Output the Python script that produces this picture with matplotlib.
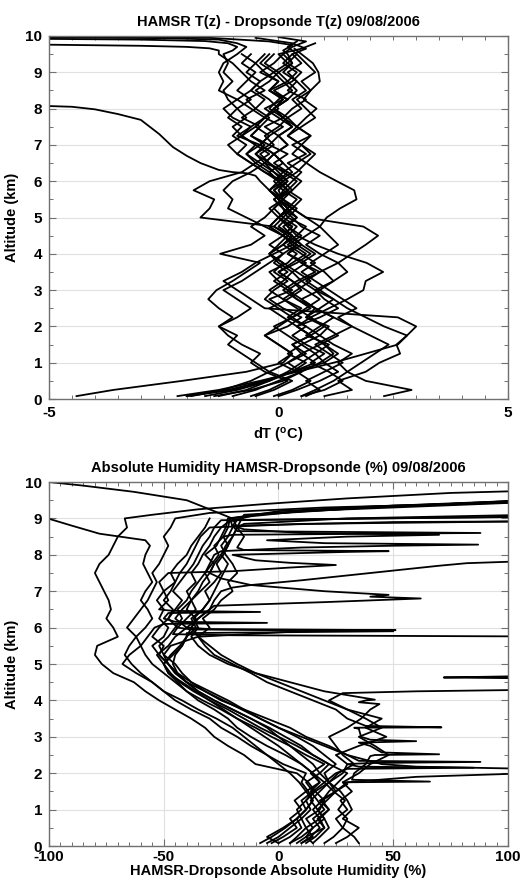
import numpy as np
import matplotlib
matplotlib.use('Agg')
import matplotlib.pyplot as plt
from matplotlib.ticker import MultipleLocator

plt.rcParams['font.family'] = ['Liberation Sans', 'DejaVu Sans']
plt.rcParams['font.weight'] = 'bold'
plt.rcParams['axes.unicode_minus'] = False
plt.rcParams['mathtext.fontset'] = 'custom'
plt.rcParams['mathtext.rm'] = 'Liberation Sans:bold'
plt.rcParams['mathtext.bf'] = 'Liberation Sans:bold'
plt.rcParams['mathtext.it'] = 'Liberation Sans:bold'

# common altitude sampling grid (km)
alt_grid = [0.08, 0.25, 0.5, 0.75, 1.0, 1.25, 1.5, 1.75, 2.0, 2.25, 2.5, 2.75, 3.0, 3.25,
            3.5, 3.75, 4.0, 4.25, 4.5, 4.75, 5.0, 5.25, 5.5, 5.75, 6.0, 6.25, 6.5, 6.75,
            7.0, 7.25, 7.5, 7.75, 8.0, 8.25, 8.5, 8.75, 9.0, 9.25, 9.5]

# ---------------- Temperature differences (deg C) ----------------
t01 = [-4.4,-3.6,-2.1,-0.7,0.1,0.3,0.0,-0.3,0.2,0.5,0.1,-0.2,0.3,0.0,-0.2,0.2,0.4,0.1,0.3,0.0,
       0.2,0.1,-0.1,0.2,0.0,0.2,-0.3,-0.5,-0.2,-0.6,-0.4,-0.8,-0.5,-0.7,-0.3,-0.6,-0.8,-1.0,-1.3]
t01_ta = [9.6, 9.66, 9.7, 9.73, 9.76]
t01_tv = [-1.3, -1.5, -2.0, -3.0, -5.0]
t02 = [2.3,2.9,1.9,1.5,1.3,1.6,1.2,0.9,1.1,0.6,0.8,0.4,0.2,0.5,0.3,0.6,0.2,0.4,0.1,0.3,
       0.0,0.2,0.4,0.1,0.3,0.5,0.2,0.6,0.3,0.7,0.4,0.2,0.5,0.3,0.6,0.4,0.2,0.5,0.3]
t02_ta = [9.65, 9.8, 9.95]
t02_tv = [0.6, 0.3, -0.5]
t03 = [-2.2,-1.3,-0.4,0.4,1.2,1.9,2.6,2.8,3.0,2.6,-0.3,-0.6,-0.9,-1.2,-0.8,-0.5,-0.1,0.3,0.1,-0.2,
       0.0,0.3,0.1,-0.1,0.1,-0.3,-0.6,-0.9,-1.1,-0.8,-1.0,-0.7,-0.9,-1.1,-1.2,-1.0,-1.2,-1.1,-1.2]
t03_ta = [9.6, 9.7, 9.8, 9.86, 9.9, 9.92]
t03_tv = [-1.0, -0.9, -1.1, -1.6, -3.0, -5.0]
t04 = [-1.9,-1.2,-0.6,-0.2,0.2,0.5,0.3,0.7,0.4,0.9,1.3,1.0,0.8,1.2,1.5,1.3,0.9,0.6,0.9,0.5,
       0.3,0.1,0.0,-0.2,-0.4]
t04_ta = [6.15, 6.22, 6.25, 6.31, 6.5, 6.7, 6.94, 7.3, 7.69, 7.85, 7.98, 8.05, 8.07]
t04_tv = [-0.5, -0.7, -1.0, -1.3, -1.7, -2.0, -2.3, -2.6, -3.0, -3.5, -4.0, -4.5, -5.0]
t05 = [-1.6,-0.9,-0.2,0.3,0.6,0.2,0.5,0.9,0.6,0.3,0.7,0.4,0.1,0.4,0.8,0.5,0.2,0.5,0.3,-0.1,
       -1.7,-1.5,-1.4,-1.85,-1.5,-0.8,-0.5,-0.7,-0.4,-0.9,-0.6,-1.0,-1.2,-0.9,-1.3,-1.2,-1.3,-1.2,-0.9]
t05_ta = [9.6, 9.7, 9.8, 9.9, 9.94, 9.96]
t05_tv = [-0.8, -0.7, -0.9, -1.3, -2.5, -5.0]
t06 = [-1.0,-0.5,0.0,0.5,0.9,1.2,1.0,0.7,0.4,0.1,-0.2,0.2,0.5,0.3,0.0,0.4,0.7,0.4,0.1,-0.3,
       -0.7,-1.1,-1.0,-1.2,-1.0,-0.6,-0.3,-0.1,-0.4,-0.2,0.1,-0.3,-0.1,0.2,-0.2,0.0,-0.4,-0.1,0.1]
t06_ta = [9.7, 9.85, 9.97]
t06_tv = [0.3, 0.6, 0.0]
t07 = [0.0,0.4,0.9,1.3,1.0,0.8,1.1,0.6,0.9,1.2,0.8,0.5,0.9,1.2,1.0,0.7,1.0,1.3,1.1,0.9,
       1.05,1.34,1.7,1.65,1.27,0.9,0.61,0.3,0.5,0.2,0.4,0.1,0.3,0.6,0.2,0.4,0.1,0.3,0.2]
t07_ta = [9.6, 9.75, 9.85, 9.95, 10.0]
t07_tv = [0.1, 0.3, -0.2, -1.5, -4.0]
t08 = [-2.0,-1.0,-0.3,0.3,0.8,0.5,0.9,1.3,1.0,0.6,0.9,1.2,0.8,0.5,0.9,1.3,1.6,1.9,2.17,1.85,
       0.6,0.3,0.0,0.2,0.0,0.3,0.1,-0.1,0.2,0.0,-0.3,0.1,-0.2,0.0,0.3,0.1,-0.1,0.2,0.0]
t08_ta = [9.65, 9.8]
t08_tv = [0.5, 0.8]
t09 = [-1.4,-0.6,0.1,0.5,0.2,0.6,0.3,0.7,1.0,0.7,1.1,1.5,1.85,1.9,2.28,1.92,1.3,0.8,0.4,0.6,
       0.2,0.4,0.1,0.3,0.5,0.2,-0.1,0.2,-0.2,0.0,0.3,0.0,-0.3,0.1,-0.2,0.2,0.4,0.1,0.3]
t10 = [1.0,1.6,1.3,1.9,2.2,2.65,2.57,2.8,2.3,1.9,1.5,1.2,0.9,0.6,0.9,0.5,0.8,0.5,0.2,0.4,
       0.1,0.3,0.0,0.2,0.4,0.1,0.4,0.7,0.5,0.2,0.5,0.8,0.6,0.4,0.7,0.5,0.8,0.6,0.4]
t10_ta = [9.7, 9.85]
t10_tv = [0.2, 0.4]
t11 = [-0.5,-0.1,0.3,-0.2,-0.5,-0.8,-1.1,-0.9,-1.3,-1.0,-1.3,-1.53,-1.35,-1.0,-0.7,-0.4,-1.27,-0.6,-0.3,-0.6,
       -0.3,-0.1,0.1,-0.2,0.0,-0.3,-0.6,-0.9,-0.7,-1.0,-0.8,-1.1,-0.9,-0.6,-0.9,-0.7,-0.5,-0.8,-0.6]
t12 = [0.5,1.0,1.4,1.1,0.7,1.0,0.6,0.3,0.6,0.2,0.5,0.1,-0.2,0.1,0.3,0.0,-0.2,0.1,0.3,0.1,
       0.4,0.2,0.0,0.3,0.1,0.4,0.6,0.8,0.5,0.7,0.4,0.6,0.83,0.55,0.7,0.9,0.87,0.75,0.5]
t12_ta = [9.65]
t12_tv = [0.35]
t13 = [-0.6,-0.2,0.2,-0.3,-0.6,-0.4,-0.8,-1.1,-1.3,-0.9,-0.6,-0.9,-1.2,-0.8,-0.5,-0.2,0.1,-0.2,0.1,0.3,
       0.0,-0.2,0.1,-0.1,0.2,0.0,-0.2,-0.5,-0.3,-0.6,-0.4,-0.2,-0.5,-0.3,-0.6,-0.4,-0.7,-0.5,-0.3]
t14 = [0.6,0.9,0.6,1.0,1.4,1.1,0.8,1.2,1.6,1.3,1.7,1.4,1.1,0.8,0.5,0.8,0.5,0.2,0.5,0.2,
       0.4,0.1,-0.1,0.2,0.0,-0.2,0.1,-0.1,0.2,0.0,0.3,0.1,-0.1,0.2,0.4,0.2,0.0,0.3,0.1]
t15 = [-0.1,0.3,0.7,0.4,0.0,0.3,0.0,-0.3,0.0,0.3,0.0,-0.3,-0.1,0.2,-0.1,0.1,-0.2,0.0,0.2,-0.1,
       0.1,-0.1,0.1,0.0,0.2,-0.1,-0.3,-0.1,-0.4,-0.2,-0.5,-0.3,0.0,-0.2,-0.5,-0.2,0.0,-0.3,-0.1]
t16 = [-1.3,-0.7,-0.2,0.2,0.5,0.8,0.5,0.2,-0.1,0.3,0.6,0.9,0.6,0.3,0.0,0.3,0.6,0.3,0.6,0.9,
       0.6,0.3,0.5,0.2,0.0,-0.2,-0.5,-0.2,-0.5,-0.8,-0.5,-0.3,-0.1,0.2,-0.1,0.3,0.5,0.2,0.4]
t17 = [0.5,0.8,1.2,1.5,1.8,2.1,2.4,2.0,1.6,1.2,0.8,0.5,0.2,-0.1,0.2,-0.1,0.1,0.4,0.1,-0.2,
       0.0,0.2,0.0,-0.2,0.1,-0.1,-0.4,-0.7,-0.5,-0.8,-0.6,-0.3,-0.6,-0.9,-0.6,-0.4,-0.1,-0.4,-0.2]
t18 = [-2.0,-1.1,-0.3,0.3,1.0,1.3,1.0,0.7,0.4,0.7,0.4,0.1,0.4,0.7,0.4,0.1,-0.2,0.1,0.4,0.2,
       0.0,0.2,0.0,0.1,-0.1,0.1,-0.2,-0.4,-0.1,-0.3,0.0,0.2,-0.1,0.1,-0.2,0.0,-0.3,-0.5,-0.8]

temp_profiles = [
    (t01, t01_ta, t01_tv), (t02, t02_ta, t02_tv), (t03, t03_ta, t03_tv), (t04, t04_ta, t04_tv),
    (t05, t05_ta, t05_tv), (t06, t06_ta, t06_tv), (t07, t07_ta, t07_tv), (t08, t08_ta, t08_tv),
    (t09, [], []), (t10, t10_ta, t10_tv), (t11, [], []), (t12, t12_ta, t12_tv),
    (t13, [], []), (t14, [], []), (t15, [], []), (t16, [], []), (t17, [], []), (t18, [], []),
]

# ---------------- Absolute humidity differences (%) ----------------
N = None
h01 = [5,8,12,10,14,12,16,13,8,-10,-15,-22,-28,-32,-38,-45,-52,-58,-63,-72,-77,-80,-79,-70,-72,-75,
       -73,-74,-76,-78,-80,-78,-74,-72,-70,-66,-67]
h01_ea = [9.1, 9.25, 9.4, 9.55, 9.7, 9.76]
h01_ev = [-55, -35, -5, 30, 75, 110]
h02 = [0,5,10,8,12,15,13,10,12,2,-5,-12,-18,-25,-30,-38,-45,-50,-55,-62,-68,-65,-60,-62,-58,-55,
       -57,-60,-58,-55,-57,-59,-58,-56]
h02_ea = [8.4, 8.58, 8.8, 8.99]
h02_ev = [-58, -78, -90, -100]
h03 = [10,14,18,15,20,17,14,18,15,10,3,-5,-12,-18,-22,-28,-35,-40,-44,-48,-50,-47,-43,-40,-36,-38,
       -33,-30,-32,-28,-25,-27,-24,-22,-24,-22]
h03_ea = [9.02, 9.25, 9.5, 9.73, 9.9, 10.0]
h03_ev = [-21, -30, -40, -63, -85, -100]
h04 = [15,18,22,20,17,21,25,30,110,45,30,22,12,5,-5,-15,-25,-32,-40,-45,-48,-52,-50,-55,-52,-48,
       -45,-42,-46,-43,-40,-37,-35,-33,-30,-28]
h04_ea = [1.9, 2.12, 2.18, 8.95, 9.0, 9.04]
h04_ev = [60, 110, 60, -25, 40, 110]
h05 = [20,24,28,25,30,27,32,28,35,40,48,42,35,45,38,30,22,N,N,N,N,N,N,N,-44,-48,-46,-50,-47,-45,
       -43,-40,-38,-36,-34,-30]
h05_ea = [4.2, 4.25, 4.3, 4.6, 4.63, 4.66, 4.7, 5.7, 5.76, 5.79, 5.82, 8.85, 8.92]
h05_ev = [28, 60, 120, 120, 72, 100, 130, 130, 100, -20, -46, 10, 110]
h06 = [0,-5,2,8,12,10,15,20,25,30,30,20,10,0,-8,-15,-22,-30,-38,-42,-45,-50,-47,-35,-40,-45,-42,
       -38,-40,-36,-38,-35,-33,-30,-28,-25]
h06_ea = [2.12, 2.15, 2.18, 2.28, 2.31, 2.34, 5.9, 5.93, 5.96, 8.9, 9.1, 9.3, 9.45, 9.5]
h06_ev = [30, 85, 35, 40, 88, 35, 10, 51, -30, -22, -10, 30, 90, 110]
h07 = [10,15,12,18,22,18,25,28,33,38,42,40,36,33,30,25,15,5,-5,-12,-20,-28,-32,-35,-30,-33,-28,
       -25,-20,-22,-18,-20,-23,-25,-22,-20,-21]
h07_ea = [1.7, 1.77, 1.82, 2.47, 2.52, 2.57, 2.84, 2.88, 2.92, 3.22, 3.26, 3.3, 9.2, 9.45]
h07_ev = [30, 66, 32, 40, 70, 45, 35, 60, 40, 35, 71, 38, 10, 110]
h08 = [-5,0,5,10,8,12,15,12,18,22,15,8,0,-8,-15,-22,-30,-36,-42,-48,-50,-53,-48,-45,-40,-35,-30,
       -28,-25]
h08_ea = [7.1, 7.17, 7.3, 7.5, 7.7, 7.77, 7.83]
h08_ev = [-20, -12, 10, 40, 70, 82, 110]
h09 = [25,30,35,28,32,30,27,22,18,15,10,5,0,-5,-12,-20,-28,-35,-40,-45,-48,-52,-55,-50,-48,-52,
       -50,-53,-50,-52,-48]
h09_ea = [7.55, 7.65, 7.72, 7.78, 7.85, 8.0, 8.08, 8.1, 8.13, 8.2, 8.5, 8.75, 9.0, 9.2, 9.35, 9.47]
h09_ev = [-20, 5, 25, 5, -10, -20, 30, 48, -15, -18, -15, -18, -20, 0, 50, 110]
h10 = [-8,-3,3,8,12,15,12,18,14,20,12,5,-3,-10,-18,-25,-33,-40,-45,-50,-55,-58,-60,-57,-54,-50,
       -52,-48,-50,-45,-47,-44,-40,-38,-35,-32,-30]
h10_ea = [6.1, 6.13, 6.16, 6.4, 6.43, 6.46]
h10_ev = [-50, -5, -45, -48, -8, -46]
h11 = [15,12,20,17,22,19,25,22,28,30,25,35,47,38,45,30,20,10,0,-10,-18,-25,-30,-35,-38,-36,-40,
       -38,-35,-33,-30,-28,-25,-22,-20,-18,-16]
h11_ea = [9.1, 9.3, 9.5]
h11_ev = [-15, 40, 110]
h12 = [-3,2,8,5,10,7,12,9,5,0,-5,-10,-15,-20,-27,-35,-42,-50,-55,-60,-64,-67,-65,-62,-66,-63,-60,
       -57,-55,-53,-55,-52,-50,-48,-50,-47,-45]
h12_ea = [9.15, 9.3, 9.45]
h12_ev = [-30, 20, 110]
h13 = [35,33,28,30,26,29,24,20,15,10,5,0,-6,-12,-18,-24,-30,-37,-43,-47,-50,-46,-42,-40,-44,-40,
       -36,-38,-34,-30,-32,-29,-26,-28,-24]
h13_ea = [5.85, 5.9, 5.95, 8.55, 8.6, 8.65, 8.8, 8.95, 9.05]
h13_ev = [-40, 50, -38, -20, 88, -18, -20, -18, 110]
h14 = [5,10,15,12,18,20,16,22,20,25,20,15,8,0,-8,-16,-24,-32,-38,-44,-48,-50,-52,-48,-45,-42,-44,
       -40,-38,-35,-32,-30,-28]
h14_ea = [8.1, 8.2, 8.25, 8.28, 8.32, 8.4, 8.5, 8.55, 8.6, 8.7, 8.8, 8.9, 8.92]
h14_ev = [-25, 10, 50, 87, 20, -5, 30, 70, 10, -15, -20, 50, 110]
h15 = [12,16,20,18,15,19,22,26,30,22,15,10,3,-4,-12,-20,-28,-35,-40,-44,-46,-45,-42,-40,-38,-35,-30]
h15_ea = [6.6, 6.7, 6.8, 6.85, 6.9, 7.0, 7.17, 7.35, 7.5, 7.75, 8.0, 8.25, 8.5, 8.75, 9.0, 9.1, 9.3, 9.5]
h15_ev = [-28, 20, 62, 40, 48, 20, -12, -25, -30, -28, -32, -27, -25, -23, -22, -10, 40, 110]
h16 = [8,12,15,20,17,14,18,22,26,33,28,25,22,30,36,40,38,20,5,-10,-22,-30,-35,-38,-35,-37,-33,
       -30,-28,-26,-24,-22,-25,-23,-20,-18]
h16_ea = [3.9, 3.95, 4.02, 8.85, 9.0, 9.1]
h16_ev = [44, 35, 42, -15, 30, 110]

hum_profiles = [
    (h01, h01_ea, h01_ev), (h02, h02_ea, h02_ev), (h03, h03_ea, h03_ev), (h04, h04_ea, h04_ev),
    (h05, h05_ea, h05_ev), (h06, h06_ea, h06_ev), (h07, h07_ea, h07_ev), (h08, h08_ea, h08_ev),
    (h09, h09_ea, h09_ev), (h10, h10_ea, h10_ev), (h11, h11_ea, h11_ev), (h12, h12_ea, h12_ev),
    (h13, h13_ea, h13_ev), (h14, h14_ea, h14_ev), (h15, h15_ea, h15_ev), (h16, h16_ea, h16_ev),
]


def build(core, ex_alt, ex_val):
    pts = [(a, v) for a, v in zip(alt_grid, core) if v is not None]
    pts += list(zip(ex_alt, ex_val))
    pts.sort(key=lambda p: p[0])
    alts = np.array([p[0] for p in pts])
    vals = np.array([p[1] for p in pts])
    return alts, vals


fig = plt.figure(figsize=(5.25, 8.82), dpi=100)
ax1 = fig.add_axes([0.0933, 0.5476, 0.8743, 0.4116])
ax2 = fig.add_axes([0.0933, 0.0408, 0.8743, 0.4127])

spine_col = '#707070'


def style(ax):
    for s in ax.spines.values():
        s.set_color(spine_col)
        s.set_linewidth(1.0)
    ax.tick_params(which='both', direction='in', top=True, right=True, color=spine_col,
                   labelsize=11, pad=5)
    ax.tick_params(which='major', length=5, width=0.8)
    ax.tick_params(which='minor', length=3, width=0.7)
    ax.grid(True, which='major', color='#e0e0e0', linewidth=0.8)
    ax.set_axisbelow(True)
    for lab in ax.get_xticklabels() + ax.get_yticklabels():
        lab.set_fontweight('bold')


for core, ea, ev in temp_profiles:
    a, v = build(core, ea, ev)
    ax1.plot(v, a, color='black', linewidth=1.3, solid_joinstyle='round')
ax1.set_xlim(-5, 5)
ax1.set_ylim(0, 10)
ax1.xaxis.set_major_locator(MultipleLocator(5))
ax1.xaxis.set_minor_locator(MultipleLocator(0.5))
ax1.yaxis.set_major_locator(MultipleLocator(1))
ax1.yaxis.set_minor_locator(MultipleLocator(0.5))
style(ax1)
ax1.set_title('HAMSR T(z) - Dropsonde T(z) 09/08/2006', fontsize=10.5, fontweight='bold', pad=7)
ax1.set_xlabel(r'dT ($^{\mathrm{o}}$C)', fontsize=10.5, fontweight='bold', labelpad=4)
ax1.set_ylabel('Altitude (km)', fontsize=10.5, fontweight='bold', labelpad=4)

for core, ea, ev in hum_profiles:
    a, v = build(core, ea, ev)
    ax2.plot(v, a, color='black', linewidth=1.3, solid_joinstyle='round')
ax2.set_xlim(-100, 100)
ax2.set_ylim(0, 10)
ax2.xaxis.set_major_locator(MultipleLocator(50))
ax2.xaxis.set_minor_locator(MultipleLocator(5))
ax2.yaxis.set_major_locator(MultipleLocator(1))
ax2.yaxis.set_minor_locator(MultipleLocator(0.5))
style(ax2)
ax2.tick_params(axis='x', pad=3)
ax2.set_title('Absolute Humidity HAMSR-Dropsonde (%) 09/08/2006', fontsize=10.5,
              fontweight='bold', pad=7)
ax2.set_xlabel('HAMSR-Dropsonde Absolute Humidity (%)', fontsize=10.5, fontweight='bold',
               labelpad=0)
ax2.set_ylabel('Altitude (km)', fontsize=10.5, fontweight='bold', labelpad=4)

fig.savefig('out.png', dpi=100)
